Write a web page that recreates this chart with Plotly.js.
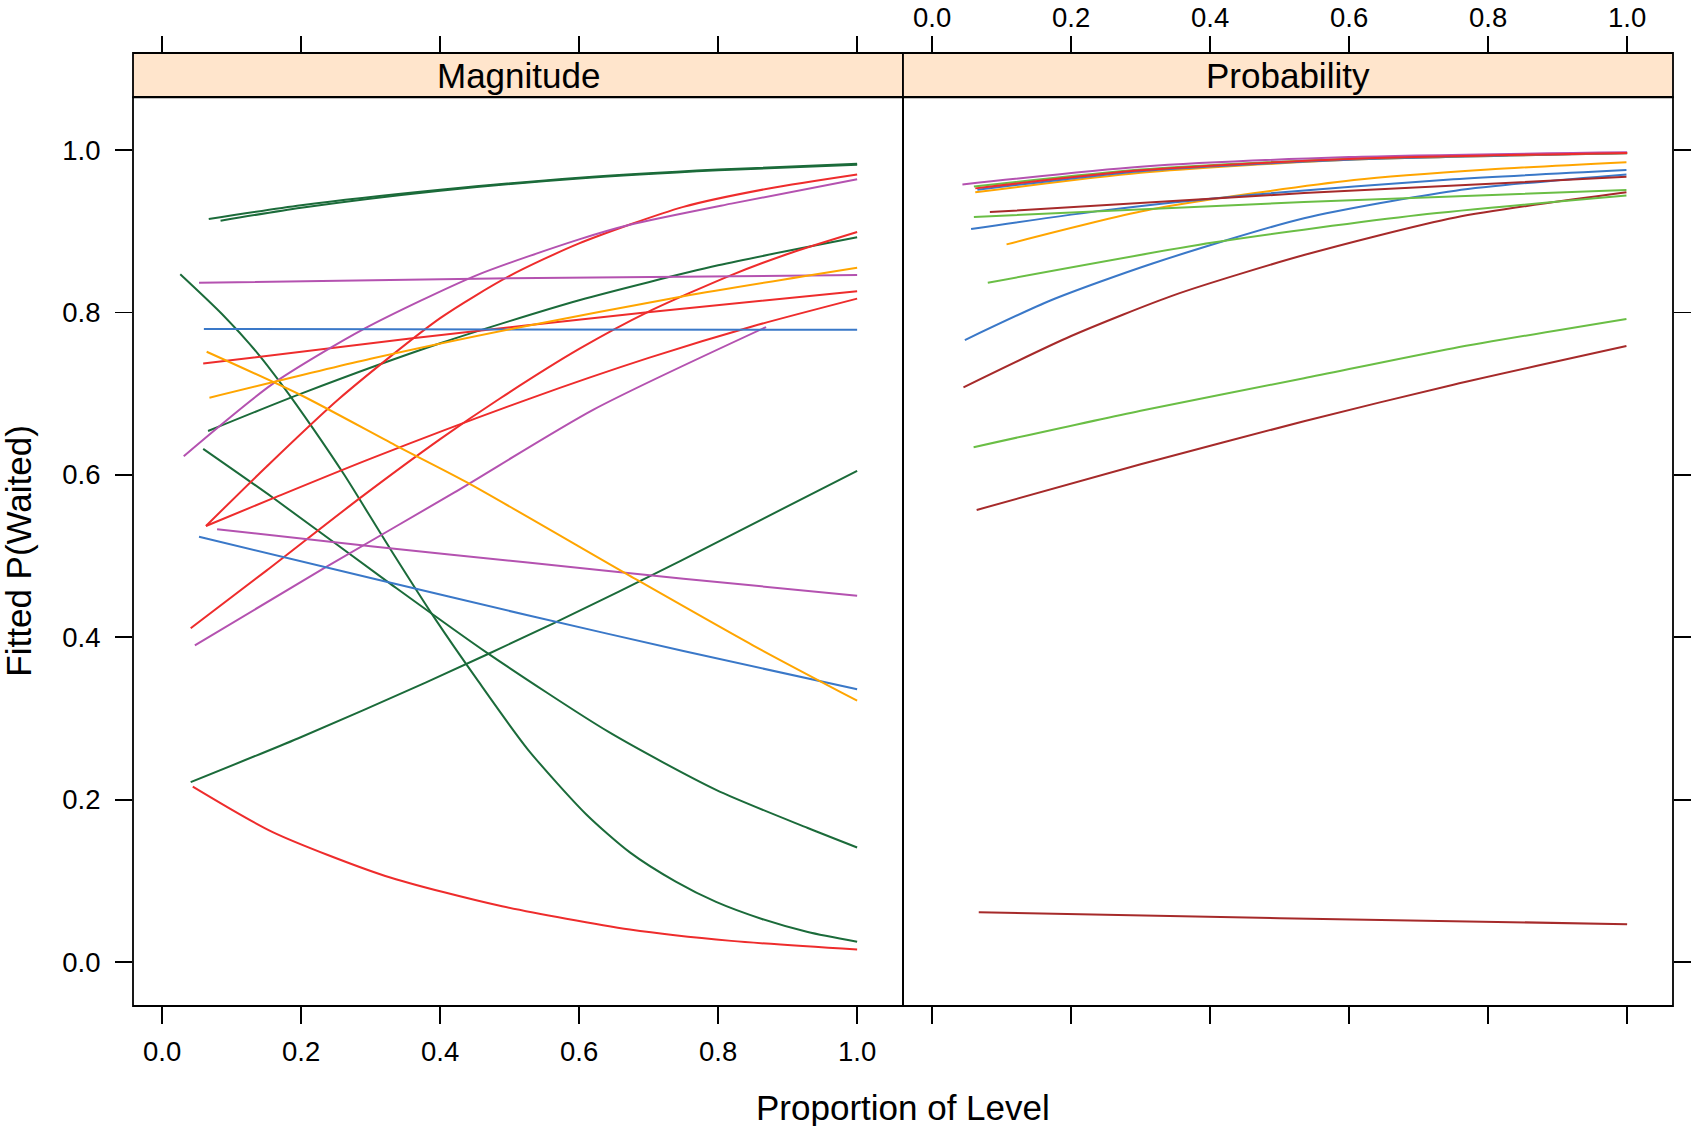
<!DOCTYPE html>
<html>
<head>
<meta charset="utf-8">
<script src="https://cdn.plot.ly/plotly-3.0.1.min.js"></script>
<style>html,body{margin:0;padding:0;background:#fff;}#chart{width:1693px;height:1126px;}</style>
</head>
<body>
<div id="chart"></div>
<script>
// ---------------- DATA ----------------
const panelNames = ['Magnitude', 'Probability'];
const xTickVals = [0, 0.2, 0.4, 0.6, 0.8, 1.0];
const xTickText = ['0.0', '0.2', '0.4', '0.6', '0.8', '1.0'];
const yTickVals = [0, 0.2, 0.4, 0.6, 0.8, 1.0];
const yTickText = ['0.0', '0.2', '0.4', '0.6', '0.8', '1.0'];
const xTitle = 'Proportion of Level';
const yTitle = 'Fitted P(Waited)';

// Magnitude panel curves
const magGroup = ['G','G','G','G','G','G','R','R','R','R','R','M','M','M','M','B','B','O','O'];
const magX = [
  [0.067,0.2,0.4,0.6,0.8,1.0],
  [0.084,0.2,0.4,0.6,0.8,1.0],
  [0.066,0.2,0.4,0.6,0.8,1.0],
  [0.026,0.086,0.137,0.174,0.218,0.262,0.328,0.394,0.453,0.526,0.610,0.673,0.739,0.797,0.863,0.929,1.0],
  [0.059,0.159,0.328,0.467,0.643,0.797,0.929,1.0],
  [0.041,0.196,0.379,0.563,0.746,1.0],
  [0.044,0.159,0.321,0.489,0.673,0.819,1.0],
  [0.059,0.357,0.695,1.0],
  [0.063,0.15,0.255,0.4,0.5,0.6,0.75,0.875,1.0],
  [0.063,0.159,0.3,0.526,0.7,0.85,1.0],
  [0.041,0.15,0.284,0.4,0.486,0.6,0.7,0.819,0.9,1.0],
  [0.053,0.5,1.0],
  [0.031,0.159,0.291,0.453,0.6,0.673,0.819,1.0],
  [0.047,0.233,0.42,0.62,0.869],
  [0.079,0.3,0.526,0.75,1.0],
  [0.060,0.5,1.0],
  [0.053,0.3,0.526,0.75,1.0],
  [0.064,0.2,0.335,0.438,0.673,0.85,1.0],
  [0.068,0.3,0.504,0.75,1.0]
];
const magY = [
  [0.915,0.932,0.951,0.966,0.976,0.983],
  [0.913,0.929,0.950,0.965,0.975,0.982],
  [0.654,0.700,0.762,0.815,0.858,0.8925],
  [0.847,0.798,0.750,0.709,0.656,0.600,0.509,0.421,0.348,0.262,0.182,0.135,0.099,0.074,0.053,0.037,0.025],
  [0.632,0.572,0.466,0.381,0.283,0.212,0.165,0.141],
  [0.2215,0.2756,0.344,0.417,0.494,0.605],
  [0.216,0.160,0.106,0.0686,0.040,0.026,0.0154],
  [0.737,0.768,0.800,0.826],
  [0.537,0.610,0.694,0.793,0.845,0.885,0.930,0.953,0.970],
  [0.537,0.571,0.620,0.693,0.744,0.783,0.817],
  [0.411,0.482,0.571,0.644,0.694,0.755,0.801,0.846,0.872,0.899],
  [0.8366,0.842,0.846],
  [0.623,0.712,0.780,0.846,0.890,0.908,0.934,0.964],
  [0.390,0.485,0.578,0.680,0.782],
  [0.533,0.512,0.492,0.472,0.4512],
  [0.7796,0.779,0.7787],
  [0.5237,0.473,0.427,0.383,0.3358],
  [0.7516,0.698,0.6367,0.591,0.4756,0.390,0.3218],
  [0.695,0.743,0.780,0.820,0.855]
];

// Probability panel curves
const probGroup = ['DR','DR','LG','DR','B','LG','O','B','LG','DR','O','B','LG','M','R'];
const probX = [
  [0.067,0.5,1.0],
  [0.064,0.3,0.535,0.75,0.999],
  [0.0596,0.3,0.535,0.75,0.999],
  [0.045,0.2,0.35,0.535,0.753,0.999],
  [0.047,0.171,0.316,0.535,0.753,0.999],
  [0.080,0.404,0.7,0.999],
  [0.107,0.316,0.607,0.8,0.999],
  [0.056,0.25,0.462,0.75,0.999],
  [0.060,0.535,0.999],
  [0.083,0.535,0.999],
  [0.062,0.3,0.6,1.0],
  [0.065,0.3,0.6,1.0],
  [0.060,0.3,0.6,1.0],
  [0.0435,0.3,0.6,1.0],
  [0.062,0.3,0.6,1.0]
];
const probY = [
  [0.0612,0.054,0.0466],
  [0.5567,0.613,0.666,0.711,0.7586],
  [0.634,0.679,0.719,0.756,0.792],
  [0.7078,0.771,0.822,0.8707,0.917,0.948],
  [0.766,0.815,0.860,0.916,0.950,0.970],
  [0.8366,0.886,0.920,0.944],
  [0.8838,0.927,0.963,0.976,0.985],
  [0.9027,0.926,0.945,0.964,0.9754],
  [0.9175,0.936,0.9507],
  [0.9236,0.947,0.967],
  [0.948,0.972,0.988,0.996],
  [0.951,0.974,0.988,0.996],
  [0.955,0.976,0.9894,0.9965],
  [0.9577,0.9794,0.9913,0.9972],
  [0.9528,0.975,0.989,0.9965]
];

// ---------------- STYLE ----------------
const palette = {
  G: '#1b6b3a', R: '#ee2c2c', M: '#b452b0', B: '#3a78c8', O: '#ffa500',
  LG: '#6abe45', DR: '#a62a2a'
};
const FONT = 'Liberation Sans, Arial, Helvetica, sans-serif';
const XR = [-0.042, 1.066];
const YR = [-0.0542, 1.0653];
const stripBottom = 0.9538;

const traces = [];
magX.forEach((xs, i) => {
  traces.push({x: xs, y: magY[i], xaxis: 'x', yaxis: 'y', type: 'scatter', mode: 'lines',
    line: {color: palette[magGroup[i]], width: 2, shape: 'spline', smoothing: 0.7},
    showlegend: false, hoverinfo: 'skip'});
});
probX.forEach((xs, i) => {
  traces.push({x: xs, y: probY[i], xaxis: 'x2', yaxis: 'y', type: 'scatter', mode: 'lines',
    line: {color: palette[probGroup[i]], width: 2, shape: 'spline', smoothing: 0.7},
    showlegend: false, hoverinfo: 'skip'});
});
// empty helper traces so the extra tick axes are drawn
traces.push({x: [], y: [], xaxis: 'x3', yaxis: 'y', type: 'scatter', mode: 'lines', showlegend: false});
traces.push({x: [], y: [], xaxis: 'x4', yaxis: 'y', type: 'scatter', mode: 'lines', showlegend: false});
traces.push({x: [], y: [], xaxis: 'x2', yaxis: 'y2', type: 'scatter', mode: 'lines', showlegend: false});

const tickCommon = {
  ticks: 'outside', ticklen: 17, tickwidth: 1.8, tickcolor: '#000',
  showgrid: false, zeroline: false, showline: false,
  tickfont: {family: FONT, size: 27.5, color: '#000'}
};

const layout = {
  width: 1693, height: 1126,
  margin: {l: 133, r: 20, t: 53, b: 120, pad: 0},
  paper_bgcolor: '#fff', plot_bgcolor: '#fff',
  showlegend: false,
  xaxis: Object.assign({}, tickCommon, {domain: [0, 0.5], range: XR, anchor: 'y', side: 'bottom',
    tickvals: xTickVals, ticktext: xTickText, ticklabelstandoff: 4}),
  xaxis2: Object.assign({}, tickCommon, {domain: [0.5, 1], range: XR, anchor: 'y', side: 'bottom',
    tickvals: xTickVals, showticklabels: false}),
  xaxis3: Object.assign({}, tickCommon, {overlaying: 'x', range: XR, anchor: 'free', position: 1, side: 'top',
    tickvals: xTickVals, showticklabels: false}),
  xaxis4: Object.assign({}, tickCommon, {overlaying: 'x2', range: XR, anchor: 'free', position: 1, side: 'top',
    tickvals: xTickVals, ticktext: xTickText, ticklabelstandoff: -2}),
  yaxis: Object.assign({}, tickCommon, {domain: [0, stripBottom], range: YR, anchor: 'x', side: 'left',
    tickvals: yTickVals, ticktext: yTickText, ticklabelstandoff: 9}),
  yaxis2: Object.assign({}, tickCommon, {overlaying: 'y', range: YR, anchor: 'x2', side: 'right',
    tickvals: yTickVals, showticklabels: false}),
  shapes: [
    {type: 'rect', xref: 'paper', yref: 'paper', x0: 0, x1: 0.5, y0: 0, y1: stripBottom, line: {color: '#000', width: 1.8}},
    {type: 'rect', xref: 'paper', yref: 'paper', x0: 0.5, x1: 1, y0: 0, y1: stripBottom, line: {color: '#000', width: 1.8}},
    {type: 'rect', xref: 'paper', yref: 'paper', x0: 0, x1: 0.5, y0: stripBottom, y1: 1, fillcolor: '#ffe5cc', line: {color: '#000', width: 1.8}, layer: 'below'},
    {type: 'rect', xref: 'paper', yref: 'paper', x0: 0.5, x1: 1, y0: stripBottom, y1: 1, fillcolor: '#ffe5cc', line: {color: '#000', width: 1.8}, layer: 'below'},
    {type: 'line', xref: 'paper', yref: 'paper', x0: 0, x1: 1, y0: stripBottom, y1: stripBottom, line: {color: '#000', width: 2.2}},
    {type: 'line', xref: 'paper', yref: 'paper', x0: 0, x1: 1, y0: 1, y1: 1, line: {color: '#000', width: 1.8}}
  ],
  annotations: [
    {text: panelNames[0], xref: 'paper', yref: 'paper', x: 0.25, y: (1 + stripBottom) / 2, xanchor: 'center', yanchor: 'middle', showarrow: false, font: {family: FONT, size: 35, color: '#000'}},
    {text: panelNames[1], xref: 'paper', yref: 'paper', x: 0.75, y: (1 + stripBottom) / 2, xanchor: 'center', yanchor: 'middle', showarrow: false, font: {family: FONT, size: 35, color: '#000'}},
    {text: xTitle, xref: 'paper', yref: 'paper', x: 0.5, y: -0.106, xanchor: 'center', yanchor: 'middle', showarrow: false, font: {family: FONT, size: 35, color: '#000'}},
    {text: yTitle, xref: 'paper', yref: 'paper', x: -0.0742, y: 0.4775, xanchor: 'center', yanchor: 'middle', textangle: -90, showarrow: false, font: {family: FONT, size: 35, color: '#000'}}
  ]
};

Plotly.newPlot('chart', traces, layout, {staticPlot: true, displayModeBar: false});
</script>
</body>
</html>
